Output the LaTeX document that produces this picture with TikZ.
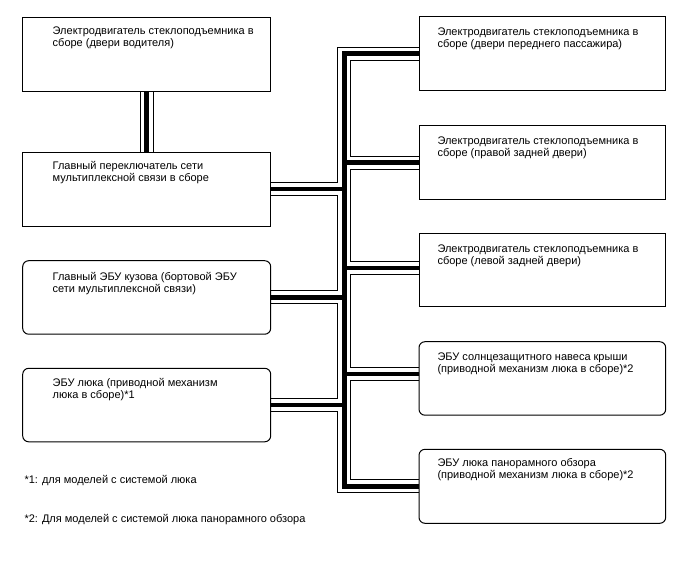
\documentclass[tikz,border=0pt]{standalone}
\usepackage{fontspec}
\setmainfont{Liberation Sans}
\pgfdeclarelayer{background}
\pgfsetlayers{background,main}
\newcommand\tstrut{\rule{0pt}{9pt}}
\tikzset{
  box/.style={draw=black, line width=1pt, minimum width=248pt, minimum height=74pt,
    inner sep=0pt, outer sep=0pt, anchor=north west},
  rbox/.style={box, rounded corners=6pt},
  txt/.style={anchor=north west, inner sep=0pt, align=left,
    font=\fontsize{11pt}{12pt}\selectfont},
  busout/.style={line width=14pt, black},
  busgap/.style={line width=12pt, white},
  buscore/.style={line width=4.5pt, black},
}
\newcommand\busnet[1]{%
  \draw[#1] (b1.south) -- (b2.north);
  \draw[#1] (b2.east) -- (b2.east -| trk);
  \draw[#1] (b3.east) -- (b3.east -| trk);
  \draw[#1] (b4.east) -- (b4.east -| trk);
  \draw[#1] (r1.west) -- (r1.west -| trk) -- (r5.west -| trk) -- (r5.west);
  \draw[#1] (r2.west) -- (r2.west -| trk);
  \draw[#1] (r3p) -- (r3p -| trk);
  \draw[#1] (r4p) -- (r4p -| trk);
}
\begin{document}
\begin{tikzpicture}[x=1pt, y=-1pt]
\begin{pgfonlayer}{background}
\fill[white] (0,0) rectangle (688,560);
\end{pgfonlayer}
\useasboundingbox (0,0) rectangle (688,560);

% left boxes
\node[box] (b1) at (22.7,17) {};
\node[box] (b2) at (22.7,152) {};
\node[rbox, minimum height=73.5pt] (b3) at (22.7,260.7) {};
\node[rbox, minimum height=73.5pt] (b4) at (22.7,368.3) {};
% right boxes
\node[box, minimum width=246.7pt] (r1) at (419,16.7) {};
\node[box, minimum width=246.7pt] (r2) at (419,125.7) {};
\node[box, minimum width=246.7pt, minimum height=73.5pt] (r3) at (419,233.3) {};
\node[rbox, minimum width=246.7pt, minimum height=73.5pt] (r4) at (419,341.7) {};
\node[rbox, minimum width=246.7pt] (r5) at (419,449.3) {};

\coordinate (trk) at (344.3,0);
\coordinate (r3p) at ([yshift=2pt]r3.west);
\coordinate (r4p) at ([yshift=4.5pt]r4.west);

\begin{pgfonlayer}{background}
\busnet{busout}
\busnet{busgap}
\busnet{buscore}
\end{pgfonlayer}

% texts
\node[txt] (b1t) at (52.5,25.3) {\tstrut Электродвигатель стеклоподъемника в\\сборе (двери водителя)};
\node[txt] (b2t) at (52.5,160.3) {\tstrut Главный переключатель сети\\мультиплексной связи в сборе};
\node[txt] (b3t) at (52.5,271.5) {\tstrut Главный ЭБУ кузова (бортовой ЭБУ\\сети мультиплексной связи)};
\node[txt] (b4t) at (52.5,377.7) {\tstrut ЭБУ люка (приводной механизм\\люка в сборе)*1};
\node[txt] (r1t) at (437.3,26.5) {\tstrut Электродвигатель стеклоподъемника в\\сборе (двери переднего пассажира)};
\node[txt] (r2t) at (437.3,135) {\tstrut Электродвигатель стеклоподъемника в\\сборе (правой задней двери)};
\node[txt] (r3t) at (437.3,243.3) {\tstrut Электродвигатель стеклоподъемника в\\сборе (левой задней двери)};
\node[txt] (r4t) at (437.3,351.5) {\tstrut ЭБУ солнцезащитного навеса крыши\\(приводной механизм люка в сборе)*2};
\node[txt] (r5t) at (437.3,457.7) {\tstrut ЭБУ люка панорамного обзора\\(приводной механизм люка в сборе)*2};
% footnotes
\node[txt] (f1) at (24.3,474) {\tstrut *1: для моделей с системой люка};
\node[txt] (f2) at (24.3,513.7) {\tstrut *2: Для моделей с системой люка панорамного обзора};
\end{tikzpicture}
\end{document}
